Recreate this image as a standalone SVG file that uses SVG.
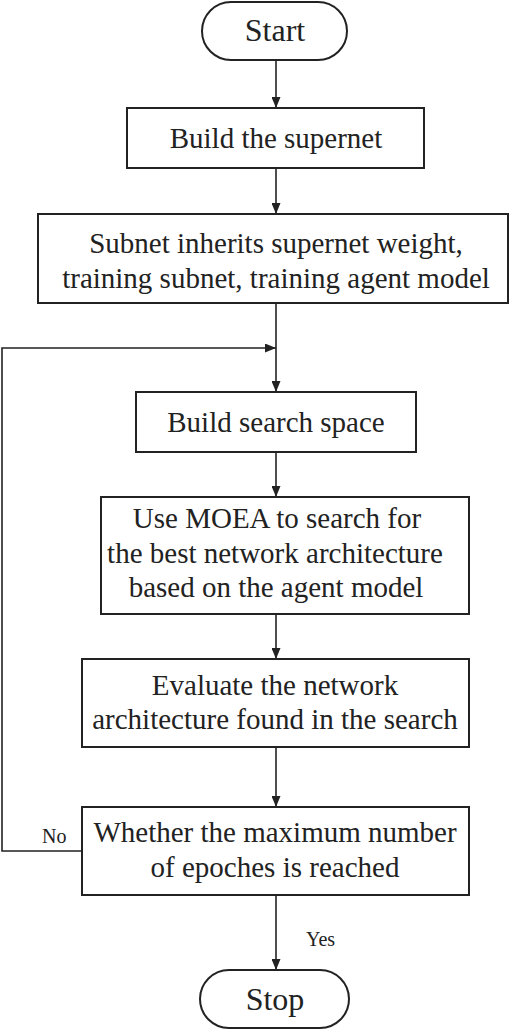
<svg xmlns="http://www.w3.org/2000/svg" width="513" height="1030" viewBox="0 0 513 1030">
<style>
.box{fill:#fff;stroke:#222;stroke-width:2}
.t{font-family:"Liberation Serif","Times New Roman",serif;font-size:29px;fill:#222;text-anchor:middle}
.tt{font-family:"Liberation Serif","Times New Roman",serif;font-size:32px;fill:#222;text-anchor:middle}
.lbl{font-family:"Liberation Serif","Times New Roman",serif;font-size:20px;fill:#222}
.c{fill:none;stroke:#222;stroke-width:1.6}
</style>
<defs>
<marker id="ah" markerWidth="11" markerHeight="9" refX="11" refY="4.5" orient="auto" markerUnits="userSpaceOnUse">
<path d="M0,0 L11,4.5 L0,9 z" fill="#222"/>
</marker>
</defs>
<rect width="513" height="1030" fill="#fff"/>
<g id="connectors">
<line class="c" x1="276" y1="60" x2="276" y2="108" marker-end="url(#ah)"/>
<line class="c" x1="276" y1="168" x2="276" y2="214" marker-end="url(#ah)"/>
<line class="c" x1="276" y1="303" x2="276" y2="392" marker-end="url(#ah)"/>
<polyline class="c" points="82,851 2,851 2,348 276,348" marker-end="url(#ah)"/>
<line class="c" x1="276" y1="452" x2="276" y2="497" marker-end="url(#ah)"/>
<line class="c" x1="276" y1="614" x2="276" y2="659" marker-end="url(#ah)"/>
<line class="c" x1="276" y1="747" x2="276" y2="807" marker-end="url(#ah)"/>
<line class="c" x1="276" y1="895" x2="276" y2="970" marker-end="url(#ah)"/>
<text class="lbl" x="42" y="843">No</text>
<text class="lbl" x="306" y="946">Yes</text>
</g>
<g id="start">
<rect class="box" x="202" y="2" width="145" height="58" rx="29" ry="29"/>
<text class="tt" x="275" y="41">Start</text>
</g>
<g id="build-supernet">
<rect class="box" x="127" y="108" width="297" height="60"/>
<text class="t" x="276" y="148">Build the supernet</text>
</g>
<g id="subnet">
<rect class="box" x="38" y="214" width="470" height="89"/>
<text class="t" x="276" y="253">Subnet inherits supernet weight,</text>
<text class="t" x="276" y="288">training subnet, training agent model</text>
</g>
<g id="search-space">
<rect class="box" x="136" y="392" width="280" height="60"/>
<text class="t" x="276" y="432">Build search space</text>
</g>
<g id="moea">
<rect class="box" x="101" y="497" width="368" height="117"/>
<text class="t" x="277" y="528">Use MOEA to search for</text>
<text class="t" x="275" y="563">the best network architecture</text>
<text class="t" x="276" y="597">based on the agent model</text>
</g>
<g id="evaluate">
<rect class="box" x="82" y="659" width="387" height="88"/>
<text class="t" x="275" y="695">Evaluate the network</text>
<text class="t" x="275" y="729">architecture found in the search</text>
</g>
<g id="decision">
<rect class="box" x="82" y="807" width="387" height="88"/>
<text class="t" x="275" y="842">Whether the maximum number</text>
<text class="t" x="275" y="877">of epoches is reached</text>
</g>
<g id="stop">
<rect class="box" x="200" y="970" width="149" height="58" rx="29" ry="29"/>
<text class="tt" x="275" y="1010">Stop</text>
</g>
</svg>
